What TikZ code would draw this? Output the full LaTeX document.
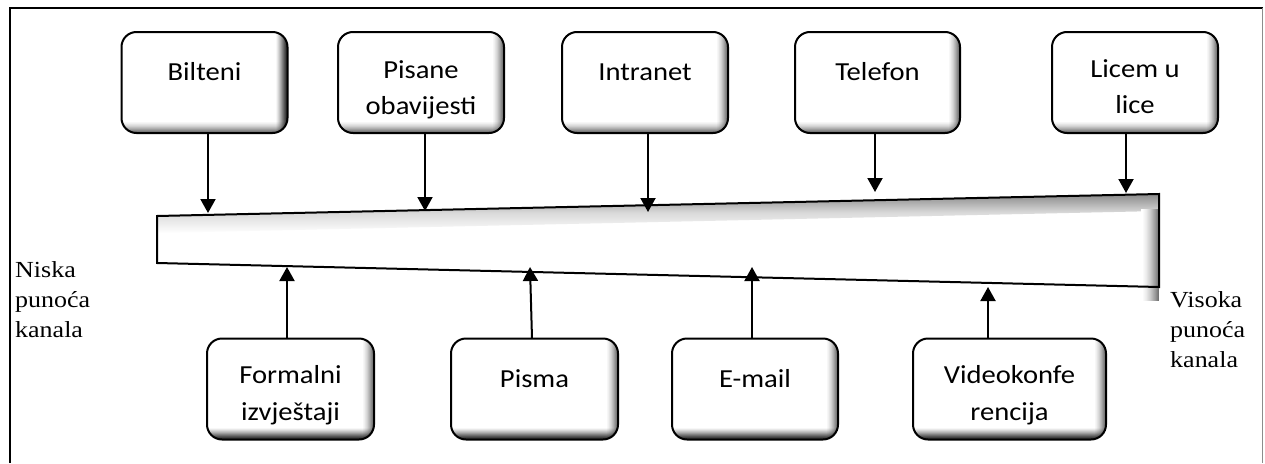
\documentclass[tikz,border=0pt]{standalone}
\usepackage{fontspec}
\newfontfamily\boxfont[FakeStretch=1.1]{Carlito}
\newfontfamily\sidefont[FakeStretch=1.13]{Liberation Serif}
\usetikzlibrary{arrows.meta,calc}
\newcommand\chantext[3]{\parbox[c][101pt][t]{#1pt}{\centering\rule{0pt}{#2pt}#3}}
\begin{document}
\begin{tikzpicture}[x=1pt,y=-1pt,
  chan/.style={draw=black, line width=2pt, rounded corners=15pt, fill=white,
    inner sep=0pt, outer sep=0pt,
    font=\boxfont\fontsize{26pt}{36.6pt}\selectfont,
    path picture={
      \foreach \i/\op in {0/0.6,1/0.52,2/0.45,3/0.38,4/0.31,5/0.25,6/0.19,7/0.14,8/0.1,9/0.06,10/0.03} {
        \draw[black, line width=1.2pt, opacity=\op]
          ([xshift={-(\i+0.5)*1pt}]path picture bounding box.north east) --
          ([xshift={-(\i+0.5)*1pt}]path picture bounding box.south east);
        \draw[black, line width=1.2pt, opacity=\op]
          ([yshift={(\i+0.5)*1pt}]path picture bounding box.south west) --
          ([yshift={(\i+0.5)*1pt}]path picture bounding box.south east);
      }
    }},
  rshade/.style={fill=white, inner sep=0pt, outer sep=0pt,
    minimum width=18pt, minimum height=92pt,
    path picture={
      \foreach \i/\op in {0/0.55,1/0.5,2/0.45,3/0.4,4/0.36,5/0.32,6/0.28,7/0.24,8/0.2,9/0.17,10/0.14,11/0.11,12/0.08,13/0.06,14/0.04,15/0.02} {
        \draw[black, line width=1.2pt, opacity=\op]
          ([xshift={-(\i+0.5)*1pt}]path picture bounding box.north east) --
          ([xshift={-(\i+0.5)*1pt}]path picture bounding box.south east);
      }
    }},
  arr/.style={line width=2pt, -{Triangle[width=15pt,length=14pt]}},
  side/.style={inner sep=0pt, anchor=base west,
    font=\sidefont\fontsize{23pt}{30.3pt}\selectfont}
]
\useasboundingbox (0,0) rectangle (1265,463);

% frame
\draw[line width=2.5pt] (10,463) -- (10,8) -- (1263,8);
\draw[black!45, line width=1pt] (1262,8) -- (1262,463);

% wedge (channel richness)
\coordinate (wTL) at (157,216);
\coordinate (wTR) at (1159,194);
\coordinate (wBR) at (1159,287);
\coordinate (wBL) at (157,263);
\fill[white] (wTL) -- (wTR) -- (wBR) -- (wBL) -- cycle;
\begin{scope}
  \clip (wTL) -- (wTR) -- (wBR) -- (wBL) -- cycle;
  \begin{scope}[shift={(wTL)}, rotate=1.258]
    \shade[top color=black!50, bottom color=white, middle color=black!15]
      (-5,-2) rectangle (1020,17);
  \end{scope}
\end{scope}
% shadow along the right end of the wedge
\node[rshade, anchor=north east] (rs) at (1159,209) {};
\draw[line width=2pt, line join=miter] (wTL) -- (wTR) -- (wBR) -- (wBL) -- cycle;

% top boxes
\node[chan] (b1) at (204.5,82.5) {\chantext{166}{48}{Bilteni}};
\node[chan] (b2) at (421,82.5) {\chantext{166}{46}{Pisane\\obavijesti}};
\node[chan] (b3) at (645,82.5) {\chantext{166}{48}{Intranet}};
\node[chan] (b4) at (877.5,82.5) {\chantext{165}{48}{Telefon}};
\node[chan] (b5) at (1135,82.5) {\chantext{166}{45}{Licem u\\lice}};

% bottom boxes
\node[chan] (c1) at (290.5,389) {\chantext{167}{45}{Formalni\\izvještaji}};
\node[chan] (c2) at (534.5,389) {\chantext{167}{49}{Pisma}};
\node[chan] (c3) at (755,389) {\chantext{166}{49}{E-mail}};
\node[chan] (c4) at (1009.5,389) {\chantext{193}{45}{Videokonfe\\rencija}};

% arrow tips
\coordinate (t1) at (208,213);
\coordinate (t2) at (425,211);
\coordinate (t3) at (648,212);
\coordinate (t4) at (875,192);
\coordinate (t5) at (1126,193);
\coordinate (u1) at (287,267);
\coordinate (u2) at (530,267);
\coordinate (u3) at (752,267);
\coordinate (u4) at (988,287);

\draw[arr] (b1.south -| t1) -- (t1);
\draw[arr] (b2.south -| t2) -- (t2);
\draw[arr] (b3.south -| t3) -- (t3);
\draw[arr] (b4.south -| t4) -- (t4);
\draw[arr] (b5.south -| t5) -- (t5);
\draw[arr] (c1.north -| u1) -- (u1);
\draw[arr] ([xshift=-2.5pt]c2.north) -- (u2);
\draw[arr] (c3.north -| u3) -- (u3);
\draw[arr] (c4.north -| u4) -- (u4);

% side labels
\node[side] (lo) at (15,277) {\parbox[t]{130pt}{\raggedright Niska\\punoća\\kanala}};
\node[side] (hi) at (1170,307) {\parbox[t]{90pt}{\raggedright Visoka\\punoća\\kanala}};
\end{tikzpicture}
\end{document}
